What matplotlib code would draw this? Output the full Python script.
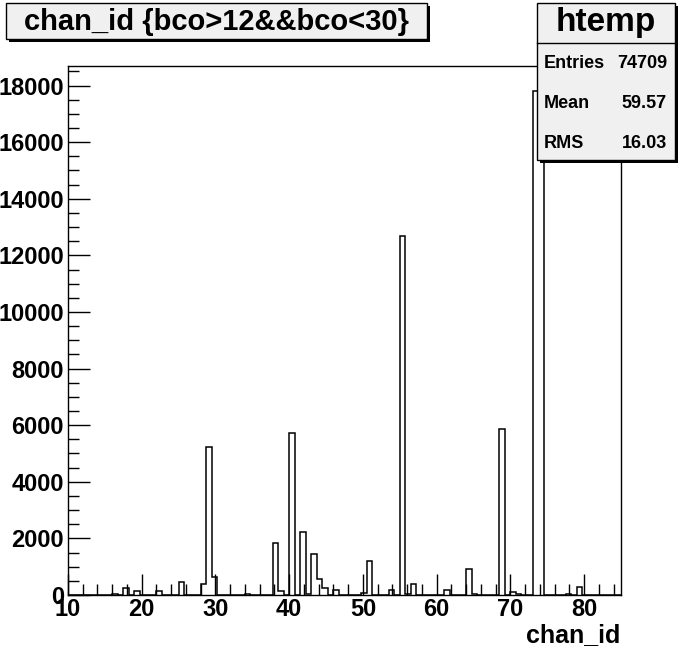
import numpy as np
import matplotlib
matplotlib.use("Agg")
import matplotlib.pyplot as plt
from matplotlib.patches import Rectangle
from matplotlib.ticker import MultipleLocator

plt.rcParams['font.family'] = ['Liberation Sans', 'DejaVu Sans']
plt.rcParams['font.weight'] = 'bold'

# histogram: 100 bins of width 0.75 from 10 to 85
x_min, x_max, n_bins = 10.0, 85.0, 100
filled_bins = [8, 10, 12, 16, 20, 24, 25, 26, 32, 37, 38, 40, 42, 43, 44, 45, 46,
               48, 53, 54, 58, 60, 61, 62, 68, 72, 73, 78, 80, 81, 84, 85, 90, 92]
bin_counts = [40, 250, 150, 150, 460, 390, 5220, 630, 30, 1830, 150, 5720, 2220, 30,
              1440, 560, 240, 170, 60, 1190, 170, 12690, 30, 380, 190, 910, 30, 5860,
              95, 50, 17800, 15450, 30, 270]

title_text = "chan_id {bco>12&&bco<30}"
stats_name = "htemp"
stats_rows = [("Entries", "74709"), ("Mean", "59.57"), ("RMS", "16.03")]

W, H = 689, 661
fig = plt.figure(figsize=(W / 100, H / 100), dpi=100)
fig.patch.set_facecolor('white')

def fx(px):
    return px / W

def fy(py):
    return 1 - py / H

ax = fig.add_axes([fx(68), fy(595), fx(621) - fx(68), fy(66) - fy(595)])

counts = np.zeros(n_bins)
counts[filled_bins] = bin_counts
edges = np.linspace(x_min, x_max, n_bins + 1)
ax.stairs(counts, edges, color='black', linewidth=1.1, baseline=0)

ax.set_xlim(x_min, x_max)
ax.set_ylim(0, 1.05 * counts.max())

ax.xaxis.set_major_locator(MultipleLocator(10))
ax.xaxis.set_minor_locator(MultipleLocator(2))
ax.yaxis.set_major_locator(MultipleLocator(2000))
ax.yaxis.set_minor_locator(MultipleLocator(500))
ax.tick_params(which='both', direction='in', top=False, right=False, width=1)
ax.tick_params(which='major', length=16, labelsize=17, pad=3)
ax.tick_params(axis='x', which='major', length=15, pad=2)
ax.tick_params(which='minor', length=8)
for lab in ax.get_xticklabels() + ax.get_yticklabels():
    lab.set_fontweight('bold')
for s in ax.spines.values():
    s.set_linewidth(1)

fig.text(fx(620), fy(635), "chan_id", ha='right', va='center', fontsize=18, fontweight='bold')

# title box with shadow
fig.patches.append(Rectangle((fx(9), fy(42)), fx(427) - fx(6), fy(3) - fy(39),
                             transform=fig.transFigure, facecolor='black',
                             edgecolor='none', zorder=5))
fig.patches.append(Rectangle((fx(6), fy(39)), fx(427) - fx(6), fy(3) - fy(39),
                             transform=fig.transFigure, facecolor='#f0f0f0',
                             edgecolor='black', linewidth=1, zorder=6))
fig.text(fx(217), fy(22), title_text, ha='center', va='center', fontsize=21,
         fontweight='bold', zorder=7)

# stats box with shadow
sx0, sx1, sy0, sy1 = 537, 675, 3, 160
fig.patches.append(Rectangle((fx(sx0 + 3), fy(sy1 + 3)), fx(sx1) - fx(sx0), fy(sy0) - fy(sy1),
                             transform=fig.transFigure, facecolor='black',
                             edgecolor='none', zorder=5))
fig.patches.append(Rectangle((fx(sx0), fy(sy1)), fx(sx1) - fx(sx0), fy(sy0) - fy(sy1),
                             transform=fig.transFigure, facecolor='#f0f0f0',
                             edgecolor='black', linewidth=1, zorder=6))
fig.lines.append(plt.Line2D([fx(sx0), fx(sx1)], [fy(43), fy(43)], transform=fig.transFigure,
                            color='black', linewidth=1, zorder=7))
fig.text(fx(606), fy(23), stats_name, ha='center', va='center', fontsize=24,
         fontweight='bold', zorder=7)
for (name, val), yy in zip(stats_rows, [63, 104, 144]):
    fig.text(fx(544), fy(yy), name, ha='left', va='center', fontsize=13,
             fontweight='bold', zorder=7)
    fig.text(fx(667), fy(yy), val, ha='right', va='center', fontsize=13,
             fontweight='bold', zorder=7)

fig.savefig("out.png", dpi=100)
